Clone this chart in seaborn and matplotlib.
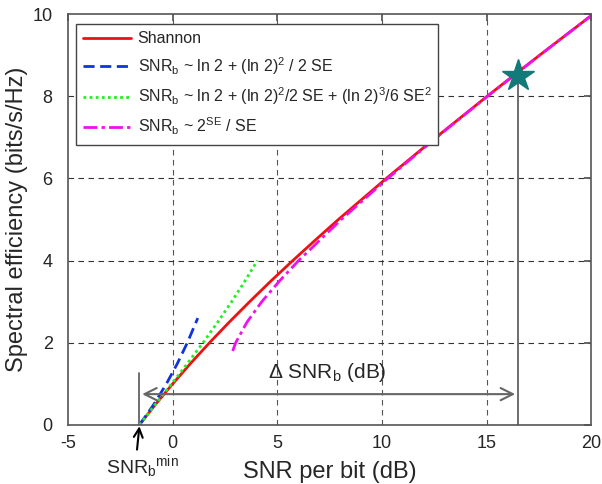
import matplotlib
matplotlib.use("Agg")
import matplotlib.pyplot as plt
import seaborn as sns

# spectral efficiency (bits/s/Hz) vs SNR per bit (dB)
shannon_se = [0, 0.25, 0.5, 0.75, 1, 1.5, 2, 2.5, 3, 3.5, 4, 4.5, 5, 6, 7, 8, 9, 10]
shannon_db = [-1.59, -1.21, -0.82, -0.41, 0.0, 0.86, 1.76, 2.70, 3.68, 4.69, 5.74, 6.82, 7.92,
              10.21, 12.59, 15.03, 17.54, 20.10]

first_se = [0, 0.5, 1, 1.5, 2, 2.6]
first_db = [-1.59, -0.90, -0.30, 0.23, 0.70, 1.20]

second_se = [0, 0.5, 1, 1.5, 2, 2.5, 3, 3.5, 4]
second_db = [-1.59, -0.83, -0.05, 0.71, 1.45, 2.15, 2.82, 3.45, 4.05]

high_se = [1.8, 2, 2.5, 3, 3.5, 4, 5, 6, 7, 8, 9, 10]
high_db = [2.87, 3.01, 3.55, 4.26, 5.10, 6.02, 8.06, 10.28, 12.62, 15.05, 17.55, 20.10]

snrb_min = -1.59
star_x, star_y = 16.5, 8.5

labels = ["Shannon",
          r"SNR$_\mathregular{b}$ ~ ln 2 + (ln 2)$^\mathregular{2}$ / 2 SE",
          r"SNR$_\mathregular{b}$ ~ ln 2 + (ln 2)$^\mathregular{2}$/2 SE + (ln 2)$^\mathregular{3}$/6 SE$^\mathregular{2}$",
          r"SNR$_\mathregular{b}$ ~ 2$^\mathregular{SE}$ / SE"]

sns.set_theme(style="white")
plt.rcParams["font.family"] = ["Liberation Sans", "DejaVu Sans"]
plt.rcParams["mathtext.fontset"] = "custom"
plt.rcParams["mathtext.rm"] = "Liberation Sans"
plt.rcParams["mathtext.it"] = "Liberation Sans"
plt.rcParams["axes.unicode_minus"] = False

fig = plt.figure(figsize=(6.02, 4.84), dpi=100)
ax = fig.add_axes([0.113, 0.122, 0.869, 0.849])

for xv in [0, 5, 10, 15]:
    ax.axvline(xv, color="#555555", ls=(0, (5, 4)), lw=0.8, zorder=0)
for yv in [2, 4, 6, 8]:
    ax.axhline(yv, color="#333333", ls=(0, (5, 4)), lw=0.8, zorder=0)

sns.lineplot(x=shannon_db, y=shannon_se, sort=False, ax=ax, color="#ee1111", lw=2, label=labels[0])
sns.lineplot(x=first_db, y=first_se, sort=False, ax=ax, color="#1133dd", lw=2,
             ls=(0, (4, 2)), label=labels[1])
sns.lineplot(x=second_db, y=second_se, sort=False, ax=ax, color="#22ee22", lw=2,
             ls=(0, (1, 1.2)), label=labels[2])
sns.lineplot(x=high_db, y=high_se, sort=False, ax=ax, color="#ee11ee", lw=2,
             ls=(0, (5, 1.5, 1.2, 1.5)), label=labels[3])

# markers for the wideband gap
ax.plot([star_x], [star_y], marker="*", ms=24, color="#127a78", zorder=5)
ax.plot([star_x, star_x], [0, star_y], color="#555555", lw=1.2, zorder=1)
ax.plot([snrb_min, snrb_min], [0, 1.27], color="#555555", lw=1.2, zorder=1)
ax.annotate("", xy=(snrb_min, 0.75), xytext=(star_x, 0.75),
            arrowprops=dict(arrowstyle="<->", color="#666666", lw=1.5, mutation_scale=22))
ax.text(7.4, 1.0, r"$\Delta$ SNR$_\mathregular{b}$ (dB)", fontsize=15, ha="center", va="bottom")
ax.annotate(r"SNR$_\mathregular{b}$$^\mathregular{min}$", xy=(snrb_min, -0.03), xytext=(snrb_min + 0.15, -0.68),
            textcoords="data", fontsize=14, ha="center", va="top", annotation_clip=False,
            arrowprops=dict(arrowstyle="->", color="black", lw=1.5, mutation_scale=16,
                            shrinkA=0, shrinkB=0, relpos=(0.42, 1.0)))

ax.set_xlim(-5, 20)
ax.set_ylim(0, 10)
ax.set_xticks([-5, 0, 5, 10, 15, 20])
ax.set_yticks([0, 2, 4, 6, 8, 10])
ax.set_xlabel("SNR per bit (dB)", fontsize=17, labelpad=7)
ax.set_ylabel("Spectral efficiency (bits/s/Hz)", fontsize=17, labelpad=3)
ax.tick_params(direction="in", top=True, right=True, length=5, labelsize=13, color="#555555")
ax.tick_params(axis="x", pad=7)
ax.tick_params(axis="y", pad=11)
for sp in ax.spines.values():
    sp.set_color("#555555")
    sp.set_linewidth(1.2)

leg = ax.legend(loc="upper left", bbox_to_anchor=(0.0, 0.995), fontsize=11.5, handlelength=3.0,
                handletextpad=0.4, labelspacing=0.55, fancybox=False, framealpha=1,
                edgecolor="#444444", borderpad=0.45)
leg.get_frame().set_linewidth(1.0)

fig.savefig("out.png", dpi=100)
